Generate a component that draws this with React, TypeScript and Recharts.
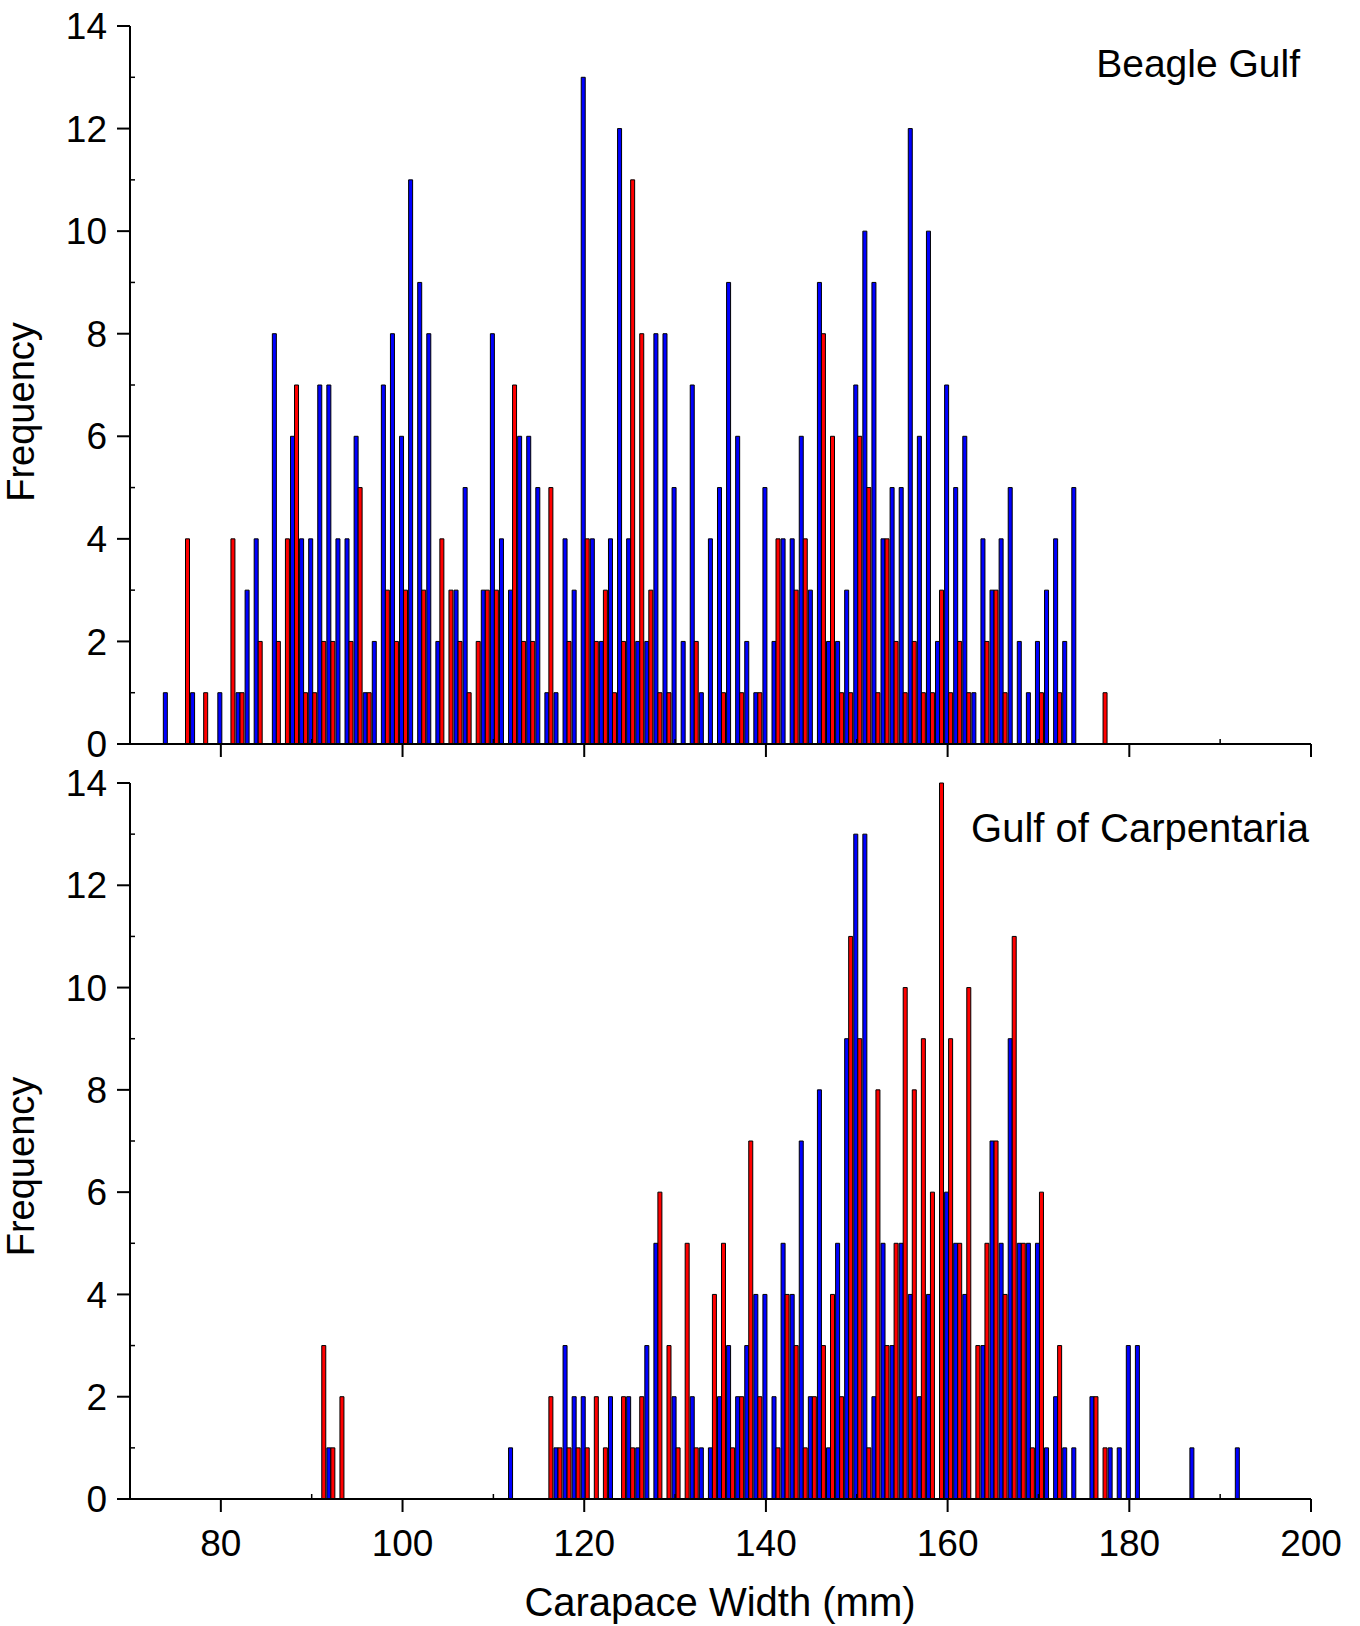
import React from 'react';
import { BarChart, Bar, XAxis, YAxis, Label } from 'recharts';

const FONT = '"Liberation Sans", Arial, Helvetica, sans-serif';
const BLUE = '#0000ff';
const RED = '#ff0000';

// counts per 1 mm carapace-width bin, as [width, count]
const beagleBlue: [number, number][] = [
  [74, 1], [77, 1], [80, 1], [82, 1], [83, 3], [84, 4], [86, 8], [88, 6], [89, 4], [90, 4],
  [91, 7], [92, 7], [93, 4], [94, 4], [95, 6], [96, 1], [97, 2], [98, 7], [99, 8], [100, 6],
  [101, 11], [102, 9], [103, 8], [104, 2], [106, 3], [107, 5], [109, 3], [110, 8], [111, 4], [112, 3],
  [113, 6], [114, 6], [115, 5], [116, 1], [117, 1], [118, 4], [119, 3], [120, 13], [121, 4], [122, 2],
  [123, 4], [124, 12], [125, 4], [126, 2], [127, 2], [128, 8], [129, 8], [130, 5], [131, 2], [132, 7],
  [133, 1], [134, 4], [135, 5], [136, 9], [137, 6], [138, 2], [139, 1], [140, 5], [141, 2], [142, 4],
  [143, 4], [144, 6], [145, 3], [146, 9], [147, 2], [148, 2], [149, 3], [150, 7], [151, 10], [152, 9],
  [153, 4], [154, 5], [155, 5], [156, 12], [157, 6], [158, 10], [159, 2], [160, 7], [161, 5], [162, 6],
  [163, 1], [164, 4], [165, 3], [166, 4], [167, 5], [168, 2], [169, 1], [170, 2], [171, 3], [172, 4],
  [173, 2], [174, 5],
];

const beagleRed: [number, number][] = [
  [76, 4], [78, 1], [81, 4], [82, 1], [84, 2], [86, 2], [87, 4], [88, 7], [89, 1], [90, 1],
  [91, 2], [92, 2], [94, 2], [95, 5], [96, 1], [98, 3], [99, 2], [100, 3], [102, 3], [104, 4],
  [105, 3], [106, 2], [107, 1], [108, 2], [109, 3], [110, 3], [112, 7], [113, 2], [114, 2], [116, 5],
  [118, 2], [120, 4], [121, 2], [122, 3], [123, 1], [124, 2], [125, 11], [126, 8], [127, 3], [128, 1],
  [129, 1], [132, 2], [135, 1], [137, 1], [139, 1], [141, 4], [143, 3], [144, 4], [146, 8], [147, 6],
  [148, 1], [149, 1], [150, 6], [151, 5], [152, 1], [153, 4], [154, 2], [155, 1], [156, 2], [157, 1],
  [158, 1], [159, 3], [160, 1], [161, 2], [162, 1], [164, 2], [165, 3], [166, 1], [170, 1], [172, 1],
  [177, 1],
];

const carpBlue: [number, number][] = [
  [92, 1], [112, 1], [117, 1], [118, 3], [119, 2], [120, 2], [123, 2], [125, 2], [126, 1], [127, 3],
  [128, 5], [130, 2], [132, 2], [133, 1], [134, 1], [135, 2], [136, 3], [137, 2], [138, 3], [139, 4],
  [140, 4], [141, 2], [142, 5], [143, 4], [144, 7], [145, 2], [146, 8], [147, 1], [148, 5], [149, 9],
  [150, 13], [151, 13], [152, 2], [153, 5], [154, 3], [155, 5], [156, 4], [157, 2], [158, 4], [160, 6],
  [161, 5], [162, 4], [164, 3], [165, 7], [166, 5], [167, 9], [168, 5], [169, 5], [170, 5], [171, 1],
  [172, 2], [173, 1], [174, 1], [176, 2], [178, 1], [179, 1], [180, 3], [181, 3], [187, 1], [192, 1],
];

const carpRed: [number, number][] = [
  [91, 3], [92, 1], [93, 2], [116, 2], [117, 1], [118, 1], [119, 1], [120, 1], [121, 2], [122, 1],
  [124, 2], [125, 1], [126, 2], [128, 6], [129, 3], [130, 1], [131, 5], [132, 1], [134, 4], [135, 5],
  [136, 1], [137, 2], [138, 7], [139, 2], [141, 1], [142, 4], [143, 3], [144, 1], [145, 2], [146, 3],
  [147, 4], [148, 2], [149, 11], [150, 9], [151, 1], [152, 8], [153, 3], [154, 5], [155, 10], [156, 8],
  [157, 9], [158, 6], [159, 14], [160, 9], [161, 5], [162, 10], [163, 3], [164, 5], [165, 7], [166, 4],
  [167, 11], [168, 5], [169, 1], [170, 6], [172, 3], [176, 2], [177, 1],
];

const xTicks = [80, 90, 100, 110, 120, 130, 140, 150, 160, 170, 180, 190, 200];
const yTicks = [0, 1, 2, 3, 4, 5, 6, 7, 8, 9, 10, 11, 12, 13, 14];

// one row per whole-mm bin between the axis limits
const buildRows = (blue: [number, number][], red: [number, number][]) => {
  const b = new Map(blue);
  const r = new Map(red);
  const rows: { mm: number; blue: number | null; red: number | null }[] = [];
  for (let mm = 71; mm <= 199; mm++) {
    rows.push({ mm, blue: b.get(mm) ?? null, red: r.get(mm) ?? null });
  }
  return rows;
};

const beagleRows = buildRows(beagleBlue, beagleRed);
const carpRows = buildRows(carpBlue, carpRed);

const XTick = ({ x, y, payload, showLabel }: any) => {
  const v = payload.value;
  const major = v % 20 === 0;
  return (
    <g>
      {major ? (
        <line x1={x} x2={x} y1={y} y2={y + 13} stroke="#000" strokeWidth={2} />
      ) : (
        <line x1={x} x2={x} y1={y} y2={y - 5} stroke="#000" strokeWidth={1.5} />
      )}
      {major && showLabel && (
        <text x={x} y={y + 57} textAnchor="middle" fontSize={37} fontFamily={FONT} fill="#000">
          {v}
        </text>
      )}
    </g>
  );
};

const YTick = ({ x, y, payload }: any) => {
  const v = payload.value;
  if (v % 2 === 1) {
    return <line x1={x} x2={x + 5} y1={y} y2={y} stroke="#000" strokeWidth={1.5} />;
  }
  return (
    <g>
      <line x1={x - 13} x2={x} y1={y} y2={y} stroke="#000" strokeWidth={2} />
      <text x={x - 23} y={y} dy="0.355em" textAnchor="end" fontSize={37} fontFamily={FONT} fill="#000">
        {v}
      </text>
    </g>
  );
};

const Panel = ({ rows, top, height, marginTop, xAxisHeight, showXLabels, overlay }: any) => (
  <div style={{ position: 'absolute', left: 0, top }}>
    <BarChart
      width={1360}
      height={height}
      data={rows}
      margin={{ top: marginTop, right: 49, bottom: 0, left: 0 }}
      barGap={0}
      style={{ overflow: 'visible' }}
    >
      <XAxis
        xAxisId="bins"
        dataKey="mm"
        type="category"
        hide
        height={0}
        padding={{ left: 5.08, right: 4 }}
      />
      <XAxis
        xAxisId="mm"
        dataKey="mm"
        type="number"
        domain={[70, 200]}
        allowDataOverflow
        ticks={xTicks}
        interval={0}
        tickSize={0}
        tickMargin={0}
        tickLine={false}
        axisLine={{ stroke: '#000', strokeWidth: 2 }}
        height={xAxisHeight}
        tick={(p: any) => <XTick {...p} showLabel={showXLabels} />}
      />
      <YAxis
        domain={[0, 14]}
        ticks={yTicks}
        interval={0}
        width={130}
        tickSize={0}
        tickMargin={0}
        tickLine={false}
        axisLine={{ stroke: '#000', strokeWidth: 2 }}
        tick={(p: any) => <YTick {...p} />}
      >
        <Label content={() => overlay} />
      </YAxis>
      <Bar xAxisId="bins" dataKey="blue" fill={BLUE} stroke="#000" strokeWidth={1} barSize={4} isAnimationActive={false} />
      <Bar xAxisId="bins" dataKey="red" fill={RED} stroke="#000" strokeWidth={1} barSize={4} isAnimationActive={false} />
    </BarChart>
  </div>
);

const textStyle = { fontFamily: FONT, fill: '#000' };

export default function App() {
  return (
    <div style={{ position: 'absolute', left: 0, top: 0, width: 1360, height: 1626, background: '#fff' }}>
      <Panel
        rows={beagleRows}
        top={0}
        height={780}
        marginTop={26}
        xAxisHeight={36}
        showXLabels={false}
        overlay={
          <g>
            <text x={33.5} y={412} transform="rotate(-90, 33.5, 412)" textAnchor="middle" fontSize={38} style={textStyle}>
              Frequency
            </text>
            <text x={1300} y={77} textAnchor="end" fontSize={39} style={textStyle}>
              Beagle Gulf
            </text>
          </g>
        }
      />
      <Panel
        rows={carpRows}
        top={740}
        height={886}
        marginTop={43}
        xAxisHeight={127}
        showXLabels
        overlay={
          <g>
            <text x={33.5} y={426.5} transform="rotate(-90, 33.5, 426.5)" textAnchor="middle" fontSize={38} style={textStyle}>
              Frequency
            </text>
            <text x={1309} y={102} textAnchor="end" fontSize={40} style={textStyle}>
              Gulf of Carpentaria
            </text>
            <text x={720} y={876} textAnchor="middle" fontSize={40} style={textStyle}>
              Carapace Width (mm)
            </text>
          </g>
        }
      />
    </div>
  );
}
